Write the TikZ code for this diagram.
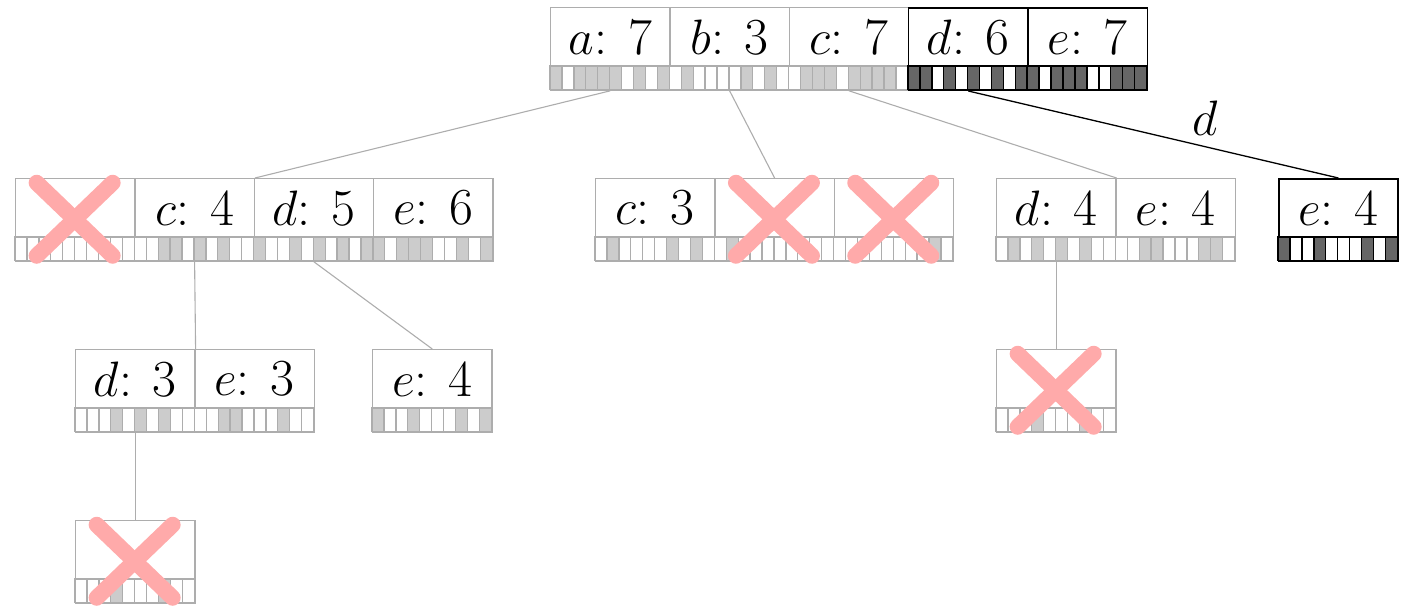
\documentclass[tikz,border=0pt]{standalone}
\usetikzlibrary{calc}
\definecolor{lineg}{gray}{0.68}
\definecolor{lightfill}{gray}{0.8}
\definecolor{darkfill}{gray}{0.4}
\definecolor{xred}{RGB}{255,170,170}
\tikzset{
  lightbox/.style={draw=lineg, line width=0.65pt, inner sep=0pt, minimum width=59.65pt, minimum height=29.5pt, font=\fontsize{26}{31}\selectfont},
  darkbox/.style={draw=black, line width=0.75pt, inner sep=0pt, minimum width=59.65pt, minimum height=29.5pt, font=\fontsize{26}{31}\selectfont},
  lightbit0/.style={draw=lineg, line width=0.65pt, fill=white},
  lightbit1/.style={draw=lineg, line width=0.65pt, fill=lightfill},
  darkbit0/.style={draw=black, line width=0.75pt, fill=white},
  darkbit1/.style={draw=black, line width=0.75pt, fill=darkfill},
  lightlink/.style={draw=lineg, line width=0.55pt},
  darklink/.style={draw=black, line width=0.65pt},
  crossmark/.style={draw=xred, line width=8pt, line cap=round},
  edgelabel/.style={font=\fontsize{26}{31}\selectfont, inner sep=0pt, anchor=base}
}
% #1 name, #2 x, #3 y, #4 text, #5 bits, #6 kind
\newcommand\bitcell[6]{%
  \node[#6box, anchor=north west] (#1) at (#2,#3) {#4};
  \node[#6box, minimum height=11.75pt, anchor=north west] (#1-b) at (#2,#3+59) {};
  \foreach \v [count=\i from 0] in {#5} {\draw[#6bit\v] ({#2+\i*11.93},{#3+59}) rectangle ++(11.93,23.5);}
}
% #1 x, #2 y of cell top-left
\newcommand\crossout[2]{%
  \draw[crossmark] ({#1+59.65-38},{#2+41.25-36.5}) -- ({#1+59.65+38},{#2+41.25+36.5});
  \draw[crossmark] ({#1+59.65+38},{#2+41.25-36.5}) -- ({#1+59.65-38},{#2+41.25+36.5});
}
\begin{document}
\begin{tikzpicture}[x=0.5pt,y=-0.5pt]
\useasboundingbox (0,0) rectangle (1402,607);
% root
\bitcell{r1}{550}{7}{$a$: 7}{1,0,1,1,1,1,0,1,0,1}{light}
\bitcell{r2}{669.3}{7}{$b$: 3}{0,1,0,0,0,0,1,0,1,0}{light}
\bitcell{r3}{788.6}{7}{$c$: 7}{0,1,1,1,0,1,1,1,1,0}{light}
\bitcell{r4}{907.9}{7}{$d$: 6}{1,1,0,1,0,1,0,1,0,1}{dark}
\bitcell{r5}{1027.2}{7}{$e$: 7}{1,0,1,1,1,0,0,1,1,1}{dark}
% row 2 left
\bitcell{A1}{15}{178}{}{0,0,0,0,0,0,0,0,0,0}{light}
\bitcell{A2}{134.3}{178}{$c$: 4}{0,0,1,1,0,1,0,1,0,0}{light}
\bitcell{A3}{253.6}{178}{$d$: 5}{1,0,0,1,0,1,0,1,0,1}{light}
\bitcell{A4}{372.9}{178}{$e$: 6}{1,0,1,1,1,0,0,1,0,1}{light}
% row 2 middle
\bitcell{B1}{595}{178}{$c$: 3}{0,1,0,0,0,0,1,0,1,0}{light}
\bitcell{B2}{714.3}{178}{}{0,1,0,0,0,0,0,0,0,0}{light}
\bitcell{B3}{833.6}{178}{}{0,0,0,0,0,0,0,0,1,0}{light}
% row 2 right
\bitcell{C1}{996}{178}{$d$: 4}{0,1,0,1,0,1,0,1,0,0}{light}
\bitcell{C2}{1115.3}{178}{$e$: 4}{0,0,1,1,0,0,0,1,1,0}{light}
\bitcell{D1}{1278}{178}{$e$: 4}{1,0,0,1,0,0,0,1,0,1}{dark}
% row 3
\bitcell{E1}{75}{349}{$d$: 3}{0,0,0,1,0,1,0,1,0,0}{light}
\bitcell{E2}{194.3}{349}{$e$: 3}{0,0,1,1,0,0,0,1,0,0}{light}
\bitcell{F1}{372}{349}{$e$: 4}{1,0,0,1,0,0,0,1,0,1}{light}
\bitcell{G1}{996}{349}{}{0,0,0,1,0,0,0,1,0,0}{light}
% row 4
\bitcell{H1}{75}{520}{}{0,0,0,1,0,0,0,1,0,0}{light}
% connectors
\draw[lightlink] (r1-b.south) -- (A2.north east);
\draw[lightlink] (r2-b.south) -- (B2.north);
\draw[lightlink] (r3-b.south) -- (C1.north east);
\draw[darklink] (r4-b.south) -- node[edgelabel, pos=0.64, yshift=5.5pt] (dlab) {$d$} (D1.north);
\draw[lightlink] (A2-b.south) -- (E1.north east);
\draw[lightlink] (A3-b.south) -- (F1.north);
\draw[lightlink] (C1-b.south) -- (G1.north);
\draw[lightlink] (E1-b.south) -- (H1.north);
% crosses
\crossout{15}{178}
\crossout{714.3}{178}
\crossout{833.6}{178}
\crossout{996}{349}
\crossout{75}{520}
\end{tikzpicture}
\end{document}
